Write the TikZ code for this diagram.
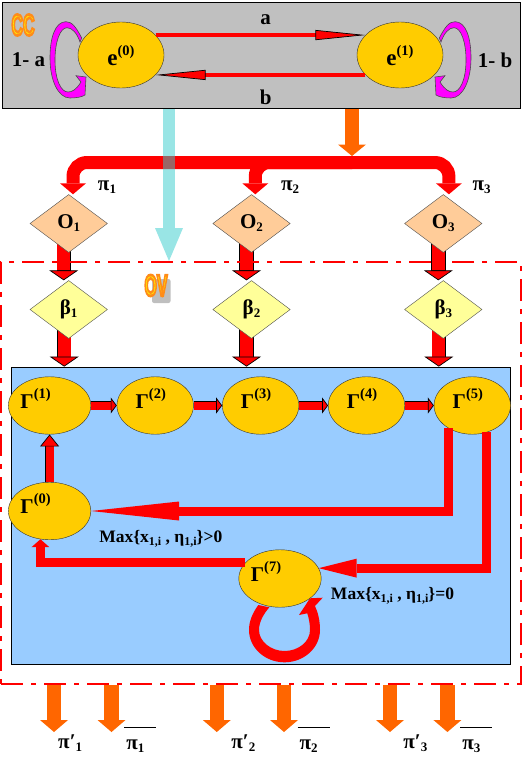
\documentclass[tikz,border=0pt]{standalone}
\usepackage{fontspec}
\setmainfont{Liberation Serif}
\newfontfamily\artfont[FakeBold=9]{Liberation Sans Bold}
\usetikzlibrary{arrows.meta,backgrounds,shapes.geometric}

\definecolor{stategold}{HTML}{FFCC00}
\definecolor{chaingray}{HTML}{C0C0C0}
\definecolor{skyfill}{HTML}{99CCFF}
\definecolor{obspeach}{HTML}{FFCC99}
\definecolor{betapale}{HTML}{FFFF99}
\definecolor{flowcyan}{rgb}{.2,.8,.8}
\definecolor{floworange}{HTML}{FF6600}
\definecolor{loopmagenta}{HTML}{FF00FF}

% filled curved arrow beside a state, relative to its centre
\newcommand{\looppath}{(-39.3,-17) .. controls (-45,-28) and (-49,-33.3) .. (-55,-33.3)
  .. controls (-66,-33.3) and (-71,-17) .. (-71,3)
  .. controls (-71,25) and (-63,43) .. (-51,43)
  .. controls (-45,43) and (-39,42) .. (-36,40)
  -- (-35,22) -- (-45,20.7) -- (-40,27)
  .. controls (-45,35) and (-49,37) .. (-53,37)
  .. controls (-60,37) and (-66,25) .. (-66,5)
  .. controls (-66,-13) and (-61,-27.3) .. (-54,-27.3)
  .. controls (-49,-27.3) and (-44,-22) .. (-41,-13) -- cycle}
\newcommand{\artword}[1]{\color{yellow}\special{pdf:literal 1 .55 .1 RG}\artfont #1}
\newcommand{\supr}[1]{{\fontsize{14.5}{14.5}\selectfont\raisebox{10pt}{(#1)}}}
\newcommand{\subr}[1]{{\fontsize{13}{13}\selectfont\raisebox{-3pt}{#1}}}
\newcommand{\subc}[1]{{\fontsize{12}{12}\selectfont\raisebox{-3pt}{#1}}}
\newcommand{\gammalab}[2]{\raisebox{-2.5pt}[0pt][0pt]{Γ\supr{#2}\hspace{#1pt}}}

\tikzset{
    state/.style={ellipse, draw=black!80, fill=stategold, inner sep=0pt, minimum width=76.5pt,
        minimum height=57.5pt, font=\bfseries\fontsize{21}{21}\selectfont},
    chainstate/.style={state, minimum width=86pt, minimum height=66pt,
        font=\bfseries\fontsize{23}{23}\selectfont},
    gate/.style={diamond, draw=black!70, inner sep=0pt, minimum width=77.5pt, minimum height=58pt,
        font=\bfseries\fontsize{21}{21}\selectfont},
    lab/.style={inner sep=0pt, font=\bfseries\fontsize{21}{21}\selectfont},
    cond/.style={inner sep=0pt, font=\bfseries\fontsize{17.5}{17.5}\selectfont},
    outlined/.style args={#1/#2/#3}{draw=red, line width=#1pt,
        -{Triangle[length=#2pt,width=#3pt,fill=red,color=black,line width=.7pt]},
        preaction={draw=black, line width=#1pt+1.4pt, arrows=-, shorten >=#2pt-1pt}},
    solidflow/.style args={#1/#2/#3/#4}{draw=#1, line width=#2pt,
        -{Triangle[length=#3pt,width=#4pt,fill=#1,color=#1,line width=0pt]}},
    magloop/.style={fill=loopmagenta, draw=black!70, line width=.6pt},
    wordart/.style={inner sep=0pt, font=\fontsize{20}{20}\selectfont, xscale=.8, yscale=1.5},
}

\begin{document}
\begin{tikzpicture}[x=1pt,y=-1pt]
    \useasboundingbox (0,0) rectangle (532,763);

    % Gray chain box
    \node[draw=black, fill=chaingray, line width=.8pt, minimum width=518pt, minimum height=105.5pt,
        inner sep=0pt] (chainbox) at (261,55.5) {};
    \node[chainstate] (e0) at (121,55) {\raisebox{-10pt}[0pt][0pt]{e\supr{0}}};
    \node[chainstate] (e1) at (400,55) {\raisebox{-10pt}[0pt][0pt]{e\supr{1}}};
    \node[lab] (la) at (265.7,20) {a};
    \node[lab] (lb) at (265.7,97) {b};
    \node[lab] (lna) at (28.5,60) {1- a};
    \node[lab] (lnb) at (495,60) {1- b};
    \node[wordart] (cc) at (23,25) {\artword{CC}};

    % Chain arrows
    \draw[outlined=3.4/50/10] (e0.30) -- (e1.150);
    \draw[outlined=3.4/50/10] (e1.210) -- (e0.330);
    \draw[magloop, shift={(e0.center)}] \looppath;
    \draw[magloop, shift={(e1.center)}, xscale=-1] \looppath;

    % Observation and beta gates
    \node[gate, fill=obspeach] (o1) at (68.7,223.5) {O\subr{1}};
    \node[gate, fill=obspeach] (o2) at (251.5,223.5) {O\subr{2}};
    \node[gate, fill=obspeach] (o3) at (443.3,223.5) {O\subr{3}};
    \node[gate, fill=betapale] (b1) at (68.7,309.5) {β\subr{1}};
    \node[gate, fill=betapale] (b2) at (251.5,309.5) {β\subr{2}};
    \node[gate, fill=betapale] (b3) at (443.3,309.5) {β\subr{3}};
    \node[lab] (p1) at (107,187) {π\subr{1}};
    \node[lab] (p2) at (290,187) {π\subr{2}};
    \node[lab] (p3) at (481.5,187) {π\subr{3}};

    % States inside the blue box
    \node[state] (g1) at (49.6,405.5) {\gammalab{28}{1}};
    \node[state] (g2) at (155.2,405.5) {\gammalab{9}{2}};
    \node[state] (g3) at (260.6,405.5) {\gammalab{9}{3}};
    \node[state] (g4) at (366.5,405.5) {\gammalab{9}{4}};
    \node[state] (g5) at (472.3,405.5) {\gammalab{9}{5}};
    \node[state] (g0) at (49.6,511) {\gammalab{28}{0}};
    \node[state] (g7) at (280,578.5) {\gammalab{28}{7}};
    \node[cond] (cpos) at (160.8,539) {Max\{x\subc{1,i} , η\subc{1,i}\}>0};
    \node[cond] (czero) at (392.5,595.7) {Max\{x\subc{1,i} , η\subc{1,i}\}=0};

    % Dashed frame
    \node[draw=red, line width=2.8pt, dash pattern=on 22pt off 8pt on 5pt off 8pt, minimum width=520pt,
        minimum height=422pt, inner sep=0pt] (ovbox) at (261,473) {};
    \fill[black!25, rounded corners=2pt] (152,279) rectangle (170.5,303);
    \node[wordart] (ov) at (156,285.5) {\artword{OV}};

    % Chain to observations
    \coordinate (bus) at (352,162.5);
    \draw[solidflow=red/13/11/26, rounded corners=14pt] (bus) -| ([xshift=4.3pt]o1.north);
    \draw[solidflow=red/13/11/26, rounded corners=14pt] (bus) -| ([xshift=3.8pt]o2.north);
    \draw[solidflow=red/13/11/26, rounded corners=14pt] (bus) -| ([xshift=5.6pt]o3.north);
    \draw[solidflow=floworange/14/11.5/28] (chainbox.south -| bus) -- ([yshift=6.5pt]bus);
    \coordinate (ovin) at (169,261);
    \draw[solidflow=flowcyan/12/33/28, opacity=.5] (chainbox.south -| ovin) -- (ovin);

    \begin{scope}[on background layer]
        \node[draw=black, fill=skyfill, line width=.8pt, minimum width=499pt, minimum height=297pt,
            inner sep=0pt] (skybox) at (260.6,515.5) {};
        % Arrows going down between the gates
        \draw[outlined=13/10/29] ([xshift=-5pt]o1.center) -- ([xshift=-5pt]b1.north);
        \draw[outlined=13/10/29] ([xshift=-5pt]o2.center) -- ([xshift=-5pt]b2.north);
        \draw[outlined=13/10/29] ([xshift=-5pt]o3.center) -- ([xshift=-5pt]b3.north);
        \draw[outlined=13/10/29] ([xshift=-4.5pt]b1.center) -- ([xshift=-4.5pt]b1.center |- skybox.north);
        \draw[outlined=13/10/29] ([xshift=-5pt]b2.center) -- ([xshift=-5pt]b2.center |- skybox.north);
        \draw[outlined=13/10/29] ([xshift=-4.5pt]b3.center) -- ([xshift=-4.5pt]b3.center |- skybox.north);
        % Self loop
        \fill[red, shift={(g7.center)}] (-21.7,26.5) .. controls (-27,34) and (-31,42) .. (-31,51.5)
            .. controls (-31,69.3) and (-15,83.8) .. (4.5,83.8) .. controls (24,83.8) and (40,69.3) .. (40,51.5)
            .. controls (40,42) and (38,34) .. (35,27.5) -- (42.7,19.2) -- (30,19.8) -- (19,36.5) -- (27.3,34.8)
            .. controls (29,40) and (30,46) .. (30,51.5) .. controls (30,63) and (18.5,72.5) .. (4.5,72.5)
            .. controls (-9,72.5) and (-21,63) .. (-21,51.5) .. controls (-21,43) and (-16,35) .. (-10.7,28.8) -- cycle;
    \end{scope}

    % Arrows between the states
    \draw[outlined=8/6/16] (g1) -- (g2);
    \draw[outlined=8/6/16] (g2) -- (g3);
    \draw[outlined=8/6/16] (g3) -- (g4);
    \draw[outlined=8/6/16] (g4) -- (g5);
    \draw[outlined=8/12/19] (g0) -- (g1);
    \draw[solidflow=red/9/88/19] (g5.-136) |- (g0.east);
    \draw[solidflow=red/9/38/19] (g5.-62) |- (g7.15);
    \draw[solidflow=red/9/8/18] (g7.156) -| (g0.-108);

    % Outputs
    \node[lab] (q1) at (70.2,743) {π′\subr{1}};
    \node[lab] (r1) at (135.4,746) {π\subr{1}};
    \node[lab] (q2) at (243.3,743) {π′\subr{2}};
    \node[lab] (r2) at (308.5,746) {π\subr{2}};
    \node[lab] (q3) at (415.3,743) {π′\subr{3}};
    \node[lab] (r3) at (471.3,746) {π\subr{3}};
    \coordinate (out1) at (54,732);
    \coordinate (out2) at (111.5,732);
    \coordinate (out3) at (216.8,732);
    \coordinate (out4) at (284,732);
    \coordinate (out5) at (390,732);
    \coordinate (out6) at (447.4,732);
    \foreach \n in {1,...,6}
        \draw[solidflow=floworange/14.5/12/28] (ovbox.south -| out\n) -- (out\n);
    \draw ([shift={(-11,-19)}]r1.center) -- ([shift={(21,-19)}]r1.center);
    \draw ([shift={(-11,-19)}]r2.center) -- ([shift={(21,-19)}]r2.center);
    \draw ([shift={(-11,-19)}]r3.center) -- ([shift={(21,-19)}]r3.center);
\end{tikzpicture}
\end{document}
